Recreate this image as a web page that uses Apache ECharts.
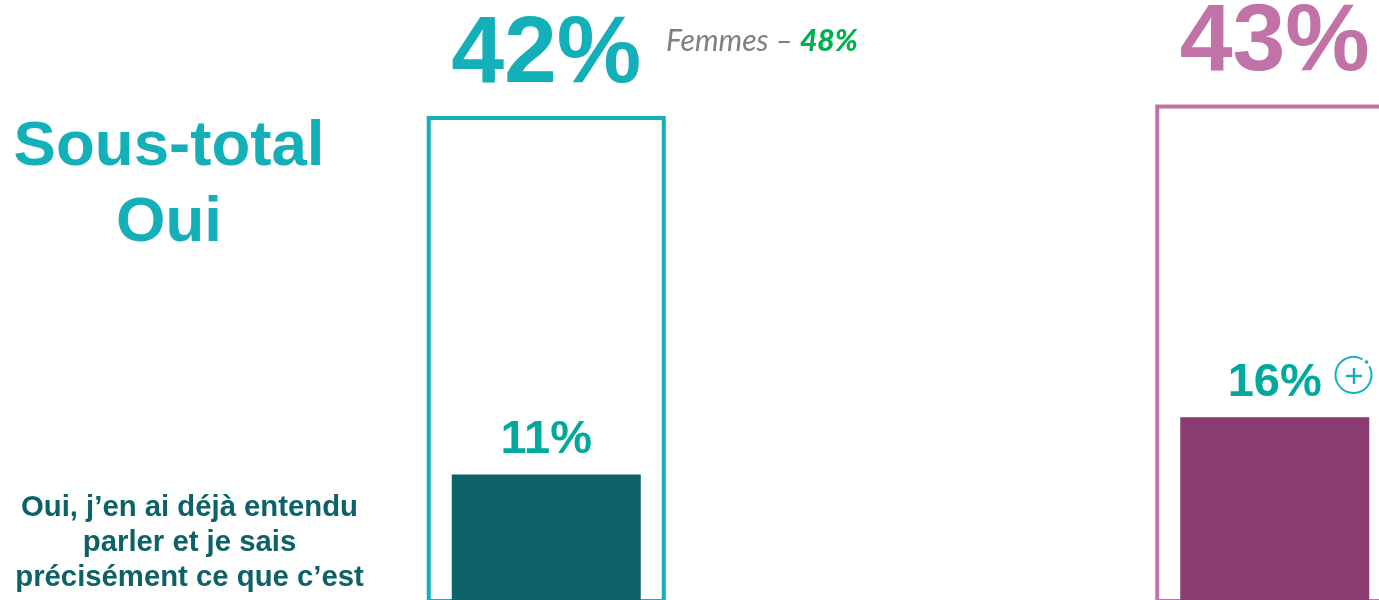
<!DOCTYPE html>
<html>
<head>
<meta charset="utf-8">
<title>Sous-total Oui</title>
<style>
  html, body { margin: 0; padding: 0; background: #fff; }
  #chart { width: 1379px; height: 600px; }
</style>
<script src="https://cdn.jsdelivr.net/npm/echarts@6/dist/echarts.min.js"></script>
</head>
<body>
<div id="chart"></div>
<script>
// deux groupes, le second est coupé par le bord droit de l'image
const categories = ['Groupe 1', 'Groupe 2'];
const sousTotalOui = [42, 43];
const ouiPrecis = [11, 16];

const outlineColors = ['#13B0B9', '#C173A8'];
const innerColors = ['#0D6267', '#8A3B6F'];
const ARIAL = '"Liberation Sans", Arial, sans-serif';

const myEcharts = echarts.init(document.getElementById('chart'), null, { renderer: 'canvas' });

// un grid par série : ECharts rentre la bordure dans la barre, le cadre a donc sa propre échelle
const hiddenXAxis = (gridIndex) => ({
    type: 'category',
    gridIndex: gridIndex,
    data: categories,
    axisLine: { show: false },
    axisTick: { show: false },
    axisLabel: { show: false }
});
const hiddenYAxis = (gridIndex) => ({
    type: 'value',
    gridIndex: gridIndex,
    min: 0,
    max: 50,
    show: false,
    splitLine: { show: false }
});

const options = {
    animation: false,
    backgroundColor: '#fff',
    grid: [
        { left: 182, top: 23.25, width: 1457, height: 579.75, outerBoundsMode: 'none' },
        { left: 182, top: 26.5, width: 1457, height: 574.5, outerBoundsMode: 'none' }
    ],
    xAxis: [hiddenXAxis(0), hiddenXAxis(1)],
    yAxis: [hiddenYAxis(0), hiddenYAxis(1)],
    series: [
        {
            type: 'bar',
            xAxisIndex: 0,
            yAxisIndex: 0,
            barWidth: 239,
            data: sousTotalOui.map((v, i) => ({
                value: v,
                itemStyle: { color: '#fff', borderColor: outlineColors[i], borderWidth: 4 },
                label: { color: outlineColors[i] }
            })),
            label: {
                show: true,
                position: 'top',
                distance: 13,
                formatter: '{c}%',
                fontFamily: ARIAL,
                fontWeight: 'bold',
                fontSize: 95
            }
        },
        {
            type: 'bar',
            xAxisIndex: 1,
            yAxisIndex: 1,
            barWidth: 189,
            data: ouiPrecis.map((v, i) => ({
                value: v,
                itemStyle: { color: innerColors[i] }
            })),
            label: {
                show: true,
                position: 'top',
                distance: 11,
                formatter: '{c}%',
                color: '#00A99D',
                fontFamily: ARIAL,
                fontWeight: 'bold',
                fontSize: 47
            }
        }
    ],
    graphic: [
        {
            type: 'text', x: 169, y: 109, z: 10,
            style: {
                text: 'Sous-total\nOui',
                fill: '#13B0B9',
                font: 'bold 63.6px "Liberation Sans", Arial, sans-serif',
                align: 'center',
                lineHeight: 76
            }
        },
        {
            type: 'text', x: 189.5, y: 490, z: 10,
            style: {
                text: 'Oui, j’en ai déjà entendu\nparler et je sais\nprécisément ce que c’est',
                fill: '#0D6267',
                font: 'bold 29.3px "Liberation Sans", Arial, sans-serif',
                align: 'center',
                lineHeight: 35
            }
        },
        {
            type: 'text', x: 666, y: 26, z: 10,
            style: {
                rich: {
                    a: { fill: '#7F7F7F', font: 'italic 30px Lato, sans-serif' },
                    b: { fill: '#00B050', font: 'italic 900 30px Lato, sans-serif' }
                },
                text: '{a|Femmes – }{b|48%}'
            }
        },
        // picto "+" à côté du 16%, z au-dessus du fond blanc du cadre
        {
            type: 'arc', z: 10, shape: { cx: 1353.5, cy: 375, r: 18, startAngle: -0.5, endAngle: -1.05 + Math.PI * 2 },
            style: { fill: 'none', stroke: '#13B0B9', lineWidth: 2 }
        },
        { type: 'circle', z: 10, shape: { cx: 1366.5, cy: 362, r: 1.8 }, style: { fill: '#13B0B9' } },
        { type: 'line', z: 10, shape: { x1: 1346, y1: 376, x2: 1362, y2: 376 }, style: { stroke: '#13B0B9', lineWidth: 2.4 } },
        { type: 'line', z: 10, shape: { x1: 1354, y1: 368, x2: 1354, y2: 384 }, style: { stroke: '#13B0B9', lineWidth: 2.4 } }
    ]
};

myEcharts.setOption(options);
</script>
</body>
</html>
